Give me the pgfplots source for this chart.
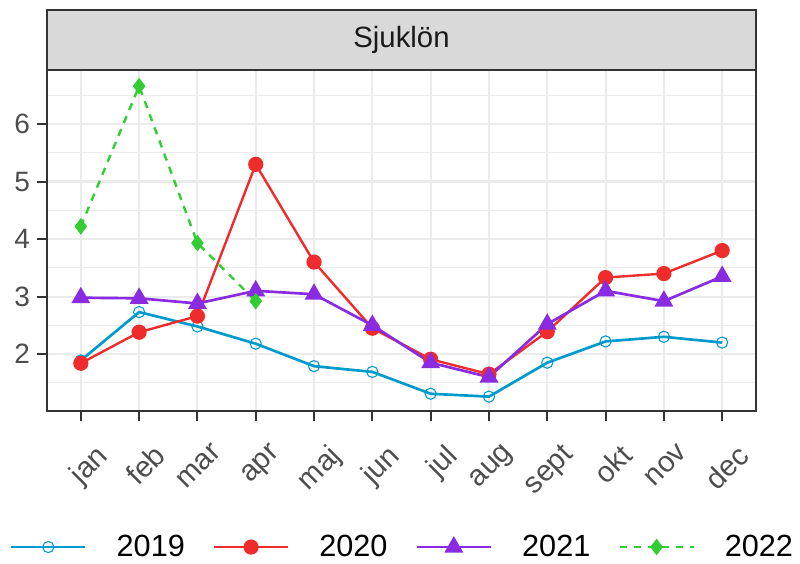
\documentclass[border=0pt]{standalone}
\usepackage{pgfplots}
\pgfplotsset{compat=1.18}
\usetikzlibrary{calc}
\usepackage{fontspec}
\setmainfont{Liberation Sans}
\definecolor{c19}{HTML}{009ACD}
\definecolor{c20}{HTML}{EE2C2C}
\definecolor{c21}{HTML}{8A2BE2}
\definecolor{c22}{HTML}{32CD32}
\definecolor{gridc}{HTML}{EBEBEB}
\definecolor{axc}{HTML}{333333}
\definecolor{tickc}{HTML}{4D4D4D}
\definecolor{stripc}{HTML}{D9D9D9}
\definecolor{stript}{HTML}{1A1A1A}
\begin{document}
\begin{tikzpicture}
\begin{axis}[
  scale only axis,
  width=531.75pt, height=255.75pt,
  xmin=-0.58, xmax=11.58, ymin=1.01, ymax=6.94,
  xtick={0,...,11},
  xticklabels={jan,feb,mar,apr,maj,jun,jul,aug,sept,okt,nov,dec},
  ytick={2,3,4,5,6},
  minor ytick={1.5,2.5,3.5,4.5,5.5,6.5},
  grid=both,
  major grid style={color=gridc, line width=1.6pt},
  minor grid style={color=gridc, line width=0.8pt},
  axis line style={color=axc, line width=1.5pt},
  tick style={color=axc, line width=1.5pt},
  tick align=outside,
  major tick length=7.5pt, minor tick length=0pt,
  xtick pos=bottom, ytick pos=left,
  /pgf/number format/assume math mode=true,
  tick label style={font=\fontsize{21}{21}\selectfont, text=tickc},
  x tick label style={font=\fontsize{22}{22}\selectfont, xshift=10pt, yshift=-16pt, rotate=45, anchor=north east, inner sep=0pt},
  y tick label style={inner sep=2pt, xshift=-3pt},
  legend style={at={(0.5,-0.399)}, anchor=center, draw=none, fill=none,
    font=\fontsize{23}{23}\selectfont, text=black,
    legend columns=4,
    nodes={inner sep=0pt},
    /tikz/every odd column/.append style={column sep=22.5pt},
    /tikz/every even column/.append style={column sep=21pt}},
  legend image code/.code={\draw[mark repeat=2,mark phase=2] plot coordinates {(0pt,0pt) (27.75pt,0pt) (55.5pt,0pt)};},
]
\addplot[color=c19, line width=2pt, mark=o, mark size=4.2pt, mark options={line width=0.8pt, solid}] coordinates {
(0,1.89) (1,2.73) (2,2.48) (3,2.18) (4,1.79) (5,1.69) (6,1.31) (7,1.26) (8,1.85) (9,2.22) (10,2.30) (11,2.20)};
\addlegendentry{2019}
\addplot[color=c20, line width=1.8pt, mark=*, mark size=4.8pt, mark options={solid}] coordinates {
(0,1.84) (1,2.38) (2,2.66) (3,5.30) (4,3.60) (5,2.45) (6,1.91) (7,1.65) (8,2.39) (9,3.33) (10,3.40) (11,3.80)};
\addlegendentry{2020}
\addplot[color=c21, line width=2pt, mark=triangle*, mark size=6.2pt, mark options={solid}] coordinates {
(0,2.98) (1,2.97) (2,2.88) (3,3.10) (4,3.04) (5,2.50) (6,1.85) (7,1.60) (8,2.52) (9,3.10) (10,2.92) (11,3.35)};
\addlegendentry{2021}
\addplot[color=c22, line width=1.8pt, dash pattern=on 5.5pt off 5pt, mark=diamond*, mark size=4.8pt, mark options={solid}] coordinates {
(0,4.22) (1,6.66) (2,3.93) (3,2.92)};
\addlegendentry{2022}
\coordinate (ll) at (rel axis cs:0,0);
\coordinate (ul) at (rel axis cs:0,1);
\coordinate (ur) at (rel axis cs:1,1);
\end{axis}
\draw[fill=stripc, draw=axc, line width=1.5pt] (ul) rectangle ([yshift=45pt]ur);
\node[font=\fontsize{22}{22}\selectfont, text=stript] at ($(ul)!0.5!(ur)+(0,22.5pt)$) {Sjuklön};
\pgfresetboundingbox
\path[use as bounding box] ([xshift=-35.25pt, yshift=-114.75pt]ll) rectangle ++(600pt,423pt);
\end{tikzpicture}
\end{document}
